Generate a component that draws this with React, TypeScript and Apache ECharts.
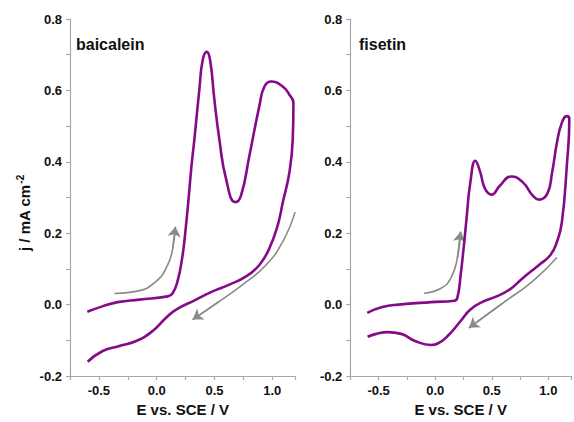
import React, { useEffect, useRef } from "react";
import * as echarts from "echarts";

// baicalein CV (forward then reverse scan)
const baicaleinE = [-0.6, -0.47, -0.337, -0.15, 0.095, 0.138, 0.18, 0.22, 0.248, 0.274, 0.3, 0.326, 0.369, 0.398, 0.433, 0.462, 0.499, 0.542, 0.6, 0.681, 0.73, 0.802, 0.888, 0.932, 0.99, 1.09, 1.148, 1.183, 1.177, 1.148, 1.09, 1.047, 0.975, 0.888, 0.773, 0.629, 0.484, 0.341, 0.168, 0.081, -0.035, -0.178, -0.323, -0.467, -0.597];
const baicaleinJ = [-0.02, -0.005, 0.007, 0.014, 0.023, 0.032, 0.065, 0.13, 0.204, 0.29, 0.385, 0.463, 0.602, 0.685, 0.708, 0.685, 0.574, 0.463, 0.352, 0.287, 0.306, 0.417, 0.556, 0.611, 0.625, 0.611, 0.588, 0.565, 0.463, 0.37, 0.285, 0.222, 0.158, 0.111, 0.079, 0.056, 0.037, 0.014, -0.014, -0.037, -0.074, -0.102, -0.116, -0.13, -0.16];

// fisetin CV
const fisetinE = [-0.6, -0.467, -0.323, -0.035, 0.168, 0.196, 0.225, 0.254, 0.277, 0.311, 0.355, 0.398, 0.441, 0.499, 0.571, 0.672, 0.773, 0.86, 0.917, 0.99, 1.033, 1.076, 1.119, 1.163, 1.185, 1.163, 1.119, 1.076, 1.018, 0.917, 0.773, 0.657, 0.542, 0.427, 0.311, 0.225, 0.11, 0.023, -0.035, -0.178, -0.3, -0.42, -0.52, -0.597];
const fisetinJ = [-0.023, -0.007, 0.0, 0.007, 0.011, 0.019, 0.083, 0.167, 0.241, 0.343, 0.403, 0.371, 0.324, 0.308, 0.333, 0.359, 0.343, 0.306, 0.294, 0.31, 0.37, 0.454, 0.509, 0.528, 0.52, 0.389, 0.23, 0.176, 0.139, 0.111, 0.074, 0.042, 0.023, 0.009, -0.014, -0.046, -0.088, -0.109, -0.113, -0.102, -0.082, -0.077, -0.082, -0.09];

// scan-direction arrows
const bArrowUpE = [-0.365, -0.178, -0.005, 0.095, 0.138, 0.162];
const bArrowUpJ = [0.031, 0.037, 0.065, 0.111, 0.157, 0.218];
const bArrowDownE = [1.197, 1.09, 0.946, 0.744, 0.542, 0.311];
const bArrowDownJ = [0.259, 0.176, 0.111, 0.056, 0.009, -0.042];
const fArrowUpE = [-0.098, 0.052, 0.138, 0.196, 0.225];
const fArrowUpJ = [0.032, 0.046, 0.074, 0.13, 0.204];
const fArrowDownE = [1.076, 0.86, 0.6, 0.298];
const fArrowDownJ = [0.132, 0.065, 0.005, -0.065];

const panelTitles = ["baicalein", "fisetin"];
const xTitle = "E vs. SCE / V";

const zip = (a: number[], b: number[]) => a.map((v, i) => [v, b[i]]);

const PURPLE = "#850a88";
const AXIS_GRAY = "#a8a8a8";
const ARROW_GRAY = "#8a8a8a";
const FONT = "Liberation Sans, Arial, sans-serif";

export default function App() {
  const ref = useRef<HTMLDivElement>(null);
  useEffect(() => {
    if (!ref.current) return;
    const chart = echarts.init(ref.current, undefined, { renderer: "svg" });
    const gridW = 225.4;
    const grids = [
      { left: 70, top: 19, width: gridW, height: 360 },
      { left: 350.3, top: 19, width: gridW, height: 360 },
    ];
    const xAxis = grids.map((_, i) => ({
      type: "value",
      gridIndex: i,
      min: -0.75,
      max: 1.2,
      interval: 0.25,
      name: xTitle,
      nameLocation: "middle",
      nameGap: 26,
      nameTextStyle: { fontFamily: FONT, fontWeight: "bold", fontSize: 15, color: "#111" },
      axisLine: { show: true, onZero: false, lineStyle: { color: AXIS_GRAY, width: 1.2 } },
      axisTick: { show: true, length: 4, inside: false, lineStyle: { color: AXIS_GRAY, width: 1.2 } },
      splitLine: { show: false },
      axisLabel: {
        fontFamily: FONT,
        fontWeight: "bold",
        fontSize: 13,
        color: "#111",
        margin: 8,
        formatter: (v: number) => (Math.abs(v * 2 - Math.round(v * 2)) < 1e-6 ? v.toFixed(1) : ""),
      },
    }));
    const yAxis = grids.map((_, i) => ({
      type: "value",
      gridIndex: i,
      min: -0.2,
      max: 0.8,
      interval: 0.1,
      axisLine: { show: true, onZero: false, lineStyle: { color: AXIS_GRAY, width: 1.2 } },
      axisTick: { show: true, length: 4, inside: false, lineStyle: { color: AXIS_GRAY, width: 1.2 } },
      splitLine: { show: false },
      axisLabel: {
        fontFamily: FONT,
        fontWeight: "bold",
        fontSize: 13,
        color: "#111",
        margin: 8,
        formatter: (v: number) => (Math.round(v * 10) % 2 === 0 ? v.toFixed(1) : ""),
      },
    }));
    const cv = (e: number[], j: number[], idx: number) => ({
      type: "line",
      xAxisIndex: idx,
      yAxisIndex: idx,
      data: zip(e, j),
      showSymbol: false,
      symbol: "none",
      smooth: 0.5,
      lineStyle: { color: PURPLE, width: 2.6 },
      z: 3,
    });
    // arrow body: smooth line; arrow head: a lines segment over the last two points
    const arrowBody = (e: number[], j: number[], idx: number) => ({
      type: "line",
      xAxisIndex: idx,
      yAxisIndex: idx,
      data: zip(e, j),
      showSymbol: false,
      symbol: "none",
      smooth: 0.5,
      lineStyle: { color: ARROW_GRAY, width: 1.6 },
      z: 2,
    });
    const arrowHead = (e: number[], j: number[], idx: number) => {
      const n = e.length;
      return {
        type: "lines",
        coordinateSystem: "cartesian2d",
        xAxisIndex: idx,
        yAxisIndex: idx,
        symbol: ["none", "arrow"],
        symbolSize: 10,
        lineStyle: { color: ARROW_GRAY, width: 1.6, opacity: 1, curveness: 0 },
        data: [{ coords: [[e[n - 2], j[n - 2]], [e[n - 1], j[n - 1]]] }],
        z: 2,
      };
    };
    chart.setOption({
      animation: false,
      backgroundColor: "#ffffff",
      grid: grids,
      xAxis,
      yAxis,
      graphic: [
        {
          type: "text",
          left: 76,
          top: 36,
          style: { text: panelTitles[0], font: `bold 16px ${FONT}`, fill: "#111" },
        },
        {
          type: "text",
          left: 359,
          top: 36,
          style: { text: panelTitles[1], font: `bold 16px ${FONT}`, fill: "#111" },
        },
        {
          type: "text",
          x: 24,
          y: 213,
          rotation: Math.PI / 2,
          style: {
            text: "j / mA cm{sup|-2}",
            fontFamily: FONT,
            fontWeight: "bold",
            fontSize: 15,
            fill: "#111",
            align: "center",
            verticalAlign: "middle",
            rich: {
              sup: { fontFamily: FONT, fontWeight: "bold", fontSize: 10, fill: "#111", verticalAlign: "top", padding: [0, 0, 8, 1] },
            },
          },
        },
      ],
      series: [
        cv(baicaleinE, baicaleinJ, 0),
        cv(fisetinE, fisetinJ, 1),
        arrowBody(bArrowUpE, bArrowUpJ, 0),
        arrowHead(bArrowUpE, bArrowUpJ, 0),
        arrowBody(bArrowDownE, bArrowDownJ, 0),
        arrowHead(bArrowDownE, bArrowDownJ, 0),
        arrowBody(fArrowUpE, fArrowUpJ, 1),
        arrowHead(fArrowUpE, fArrowUpJ, 1),
        arrowBody(fArrowDownE, fArrowDownJ, 1),
        arrowHead(fArrowDownE, fArrowDownJ, 1),
      ],
    });
    return () => chart.dispose();
  }, []);
  return (
    <div
      ref={ref}
      style={{ position: "absolute", left: 0, top: 0, width: 574, height: 422, background: "#fff" }}
    />
  );
}
